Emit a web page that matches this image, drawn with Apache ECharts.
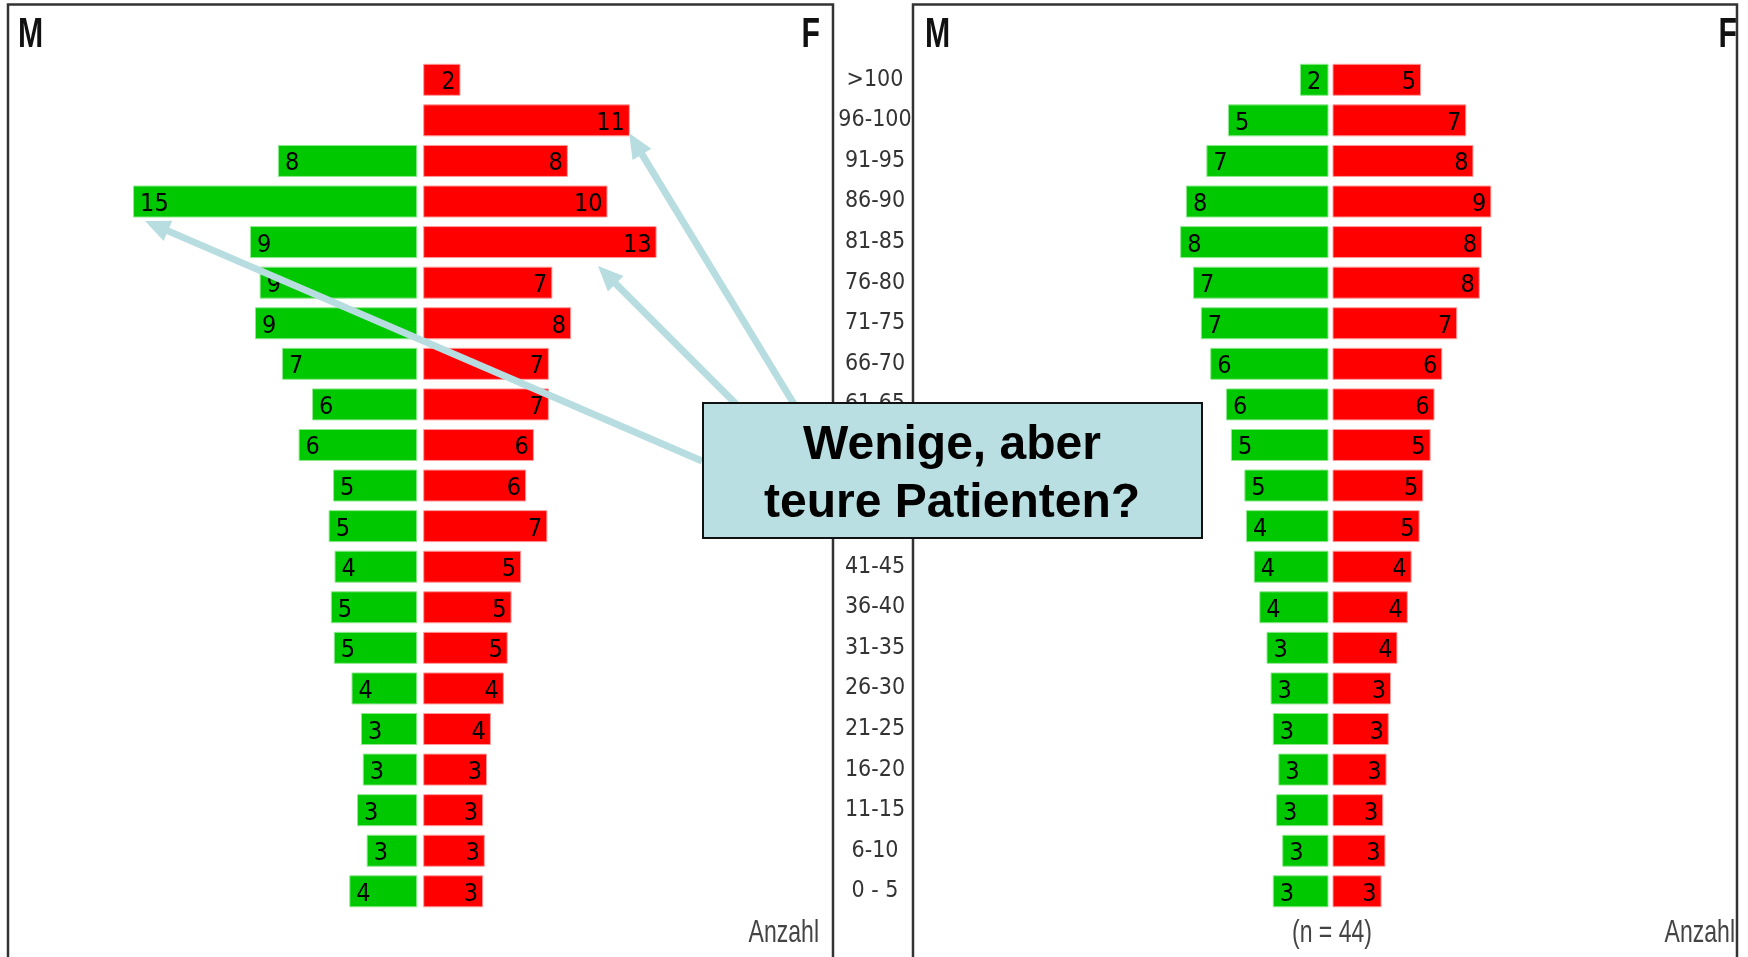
<!DOCTYPE html>
<html><head><meta charset="utf-8">
<script src="https://cdn.jsdelivr.net/npm/echarts@6/dist/echarts.min.js"></script>
<style>html,body{margin:0;padding:0;background:#fff}#c{width:1748px;height:957px}</style>
</head><body><div id="c"></div>
<script>
// ---- data ----
const categories = ['>100','96-100','91-95','86-90','81-85','76-80','71-75','66-70','61-65','56-60','51-55','46-50','41-45','36-40','31-35','26-30','21-25','16-20','11-15','6-10','0 - 5'];
const leftMale    = [null,null,7.55,15.4,9.06,8.54,8.79,7.33,5.7,6.43,4.56,4.8,4.48,4.68,4.52,3.56,3.05,2.95,3.26,2.74,3.68];
const leftFemale  = [2.02,11.2,7.84,9.99,12.65,7.0,8.02,6.81,6.81,6.0,5.58,6.73,5.31,4.79,4.58,4.37,3.67,3.46,3.25,3.34,3.25];
const rightMale   = [1.55,5.45,6.62,7.73,8.04,7.34,6.92,6.41,5.56,5.29,4.56,4.47,4.05,3.75,3.36,3.14,3.02,2.72,2.84,2.51,3.02];
const rightFemale = [4.8,7.25,7.64,8.61,8.1,7.98,6.76,5.95,5.53,5.32,4.92,4.72,4.29,4.08,3.52,3.17,3.05,2.93,2.75,2.87,2.66];
const sampleNote = '(n = 44)';
const calloutLines = ['Wenige, aber', 'teure Patienten?'];

// ---- layout / style ----
const NARROW = "'Liberation Sans Narrow','Arial Narrow','DejaVu Sans Condensed',sans-serif";
const GREEN = '#00c800', RED = '#ff0000';
const K = 18.45, MAXV = 20, W = K * MAXV;
const TOP = 59.5, H = 852.1;
const centers = [[417.2, 423.2], [1328.5, 1332.5]];
const LABEL_X = 875;

const chart = echarts.init(document.getElementById('c'), null, {renderer: 'canvas'});

const grids = [
  {left: centers[0][0] - W, top: TOP, width: W, height: H},
  {left: centers[0][1], top: TOP, width: W, height: H},
  {left: centers[1][0] - W, top: TOP, width: W, height: H},
  {left: centers[1][1], top: TOP, width: W, height: H}
];
const xAxes = grids.map((g, i) => ({type: 'value', gridIndex: i, min: 0, max: MAXV, inverse: i % 2 === 0, show: false}));
const yAxes = grids.map((g, i) => ({
  type: 'category', gridIndex: i, data: categories, inverse: true, show: i === 2,
  axisLine: {show: false}, axisTick: {show: false}, splitLine: {show: false},
  axisLabel: {margin: grids[2].left - LABEL_X, align: 'center', fontFamily: NARROW, fontSize: 23, color: '#333',
    padding: [14, 0, 0, 0]}
}));
const fmt = p => (p.value == null ? '' : String(Math.round(p.value)));
function barSeries(idx, data, isMale) {
  return {
    type: 'bar', xAxisIndex: idx, yAxisIndex: idx, data: data, barWidth: 32,
    itemStyle: {color: isMale ? GREEN : RED, borderColor: isMale ? '#8ee88e' : '#ff9a9a', borderWidth: 1},
    label: {show: true, position: isMale ? 'insideLeft' : 'insideRight', distance: isMale ? 7 : 5,
      offset: [0, 3], formatter: fmt, fontFamily: NARROW, fontSize: 25, color: '#000'},
    silent: true, animation: false
  };
}

function arrow(x1, y1, x2, y2) {
  const col = '#b7dde1', hl = 25, hw = 11;
  const dx = x2 - x1, dy = y2 - y1, L = Math.hypot(dx, dy), ux = dx / L, uy = dy / L;
  const bx = x2 - ux * hl, by = y2 - uy * hl;
  return [
    {type: 'line', z: 100, shape: {x1: x1, y1: y1, x2: bx + ux * 2, y2: by + uy * 2}, style: {stroke: col, lineWidth: 7}},
    {type: 'polygon', z: 100, shape: {points: [[x2, y2], [bx - uy * hw, by + ux * hw], [bx + uy * hw, by - ux * hw]]}, style: {fill: col}}
  ];
}

const frameStyle = {stroke: '#333', lineWidth: 2.5, fill: null};
const graphics = [
  {type: 'polyline', z: 5, shape: {points: [[8, 957], [8, 4.5], [833, 4.5], [833, 957]]}, style: frameStyle},
  {type: 'polyline', z: 5, shape: {points: [[913, 957], [913, 4.5], [1737, 4.5], [1737, 957]]}, style: frameStyle},
  {type: 'text', z: 6, x: 18, y: 35, scaleX: 0.72, style: {text: 'M', font: "bold 42px 'Liberation Sans',sans-serif", fill: '#111', verticalAlign: 'middle', align: 'left'}},
  {type: 'text', z: 6, x: 820, y: 35, scaleX: 0.72, style: {text: 'F', font: "bold 42px 'Liberation Sans',sans-serif", fill: '#111', verticalAlign: 'middle', align: 'right'}},
  {type: 'text', z: 6, x: 925, y: 35, scaleX: 0.72, style: {text: 'M', font: "bold 42px 'Liberation Sans',sans-serif", fill: '#111', verticalAlign: 'middle', align: 'left'}},
  {type: 'text', z: 6, x: 1737, y: 35, scaleX: 0.72, style: {text: 'F', font: "bold 42px 'Liberation Sans',sans-serif", fill: '#111', verticalAlign: 'middle', align: 'right'}},
  {type: 'text', z: 6, x: 819, y: 933, scaleX: 0.72, style: {text: 'Anzahl', font: "32px 'Liberation Sans',sans-serif", fill: '#444', verticalAlign: 'middle', align: 'right'}},
  {type: 'text', z: 6, x: 1735, y: 933, scaleX: 0.72, style: {text: 'Anzahl', font: "32px 'Liberation Sans',sans-serif", fill: '#444', verticalAlign: 'middle', align: 'right'}},
  {type: 'text', z: 6, x: 1332, y: 933, scaleX: 0.72, style: {text: sampleNote, font: "32px 'Liberation Sans',sans-serif", fill: '#444', verticalAlign: 'middle', align: 'center'}}
]
.concat(arrow(794, 404, 629, 133))
.concat(arrow(736, 404, 598, 266))
.concat(arrow(702, 461, 145, 221))
.concat([
  {type: 'rect', z: 110, shape: {x: 703, y: 403, width: 499, height: 135}, style: {fill: '#b9dfe2', stroke: '#111', lineWidth: 2}},
  {type: 'text', z: 111, x: 952, y: 446, style: {text: calloutLines[0], font: "bold 48px 'Liberation Sans',sans-serif", fill: '#000', align: 'center', verticalAlign: 'middle'}},
  {type: 'text', z: 111, x: 952, y: 504, style: {text: calloutLines[1], font: "bold 48px 'Liberation Sans',sans-serif", fill: '#000', align: 'center', verticalAlign: 'middle'}}
]);

chart.setOption({
  backgroundColor: '#fff',
  animation: false,
  grid: grids,
  xAxis: xAxes,
  yAxis: yAxes,
  series: [
    barSeries(0, leftMale, true),
    barSeries(1, leftFemale, false),
    barSeries(2, rightMale, true),
    barSeries(3, rightFemale, false)
  ],
  graphic: graphics
});
</script></body></html>
